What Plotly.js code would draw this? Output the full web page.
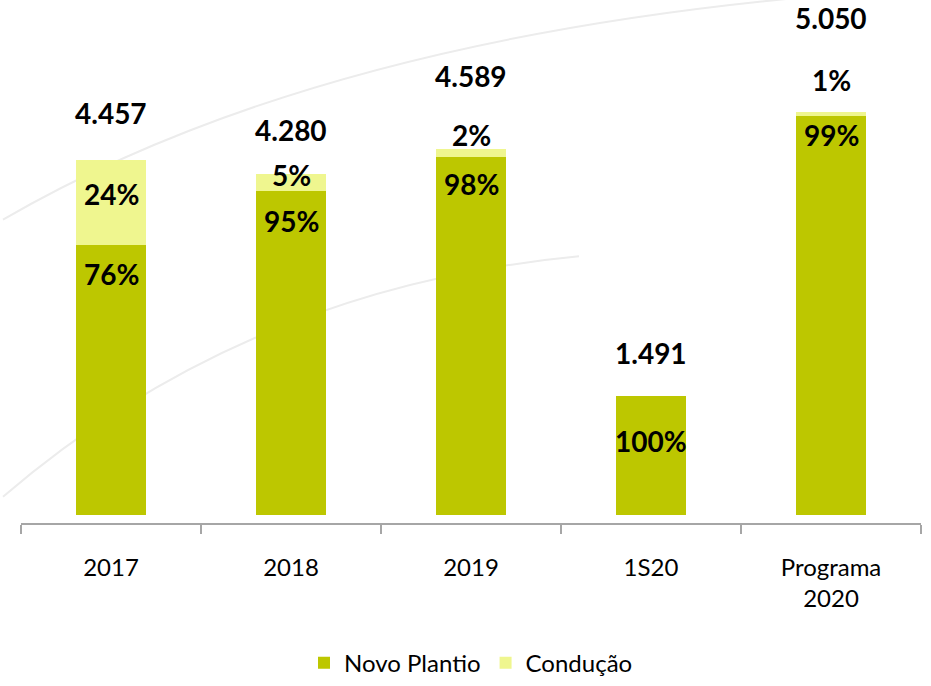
<!DOCTYPE html>
<html>
<head>
<meta charset="utf-8">
<script src="https://cdn.plot.ly/plotly-3.0.1.min.js"></script>
<style>html,body{margin:0;padding:0;background:#fff;}#chart{width:931px;height:686px;}</style>
</head>
<body>
<div id="chart"></div>
<script>
// ---- data ----
const categories = ["2017", "2018", "2019", "1S20", "Programa<br>2020"];
const totals = [4457, 4280, 4589, 1491, 5050];
const totalLabels = ["4.457", "4.280", "4.589", "1.491", "5.050"];
const novoPct = [76, 95, 98, 100, 99];
const conducaoPct = [24, 5, 2, 0, 1];

// derived series
const novoValues = totals.map((t, i) => t * novoPct[i] / 100);
const conducaoValues = totals.map((t, i) => t * conducaoPct[i] / 100);

// ---- label placement (pixel offsets, styling only) ----
const totalShift = [47, 44, 73, 43, 94];
const condShift = [-34, -1, 14, 0, 32];
const novoShift = [-29, -30, -27, -45, -19];

const green = "#BDC700";
const yellow = "#EFF68F";
const labelFont = {family: "Lato, 'Open Sans', sans-serif", size: 28, color: "#000"};

const traces = [
  {type: "bar", name: "Novo Plantio", x: categories, y: novoValues,
   marker: {color: green}, width: 0.39},
  {type: "bar", name: "Condução", x: categories, y: conducaoValues,
   marker: {color: yellow}, width: 0.39}
];

const annotations = [];
categories.forEach((c, i) => {
  annotations.push({x: i, y: totals[i], xref: "x", yref: "y", text: "<b>" + totalLabels[i] + "</b>",
    showarrow: false, yanchor: "middle", yshift: totalShift[i], font: labelFont});
  annotations.push({x: i, y: novoValues[i], xref: "x", yref: "y", text: "<b>" + novoPct[i] + "%</b>",
    showarrow: false, yanchor: "middle", yshift: novoShift[i], font: labelFont});
  if (conducaoPct[i] > 0) {
    annotations.push({x: i, y: totals[i], xref: "x", yref: "y", text: "<b>" + conducaoPct[i] + "%</b>",
      showarrow: false, yanchor: "middle", yshift: condShift[i], font: labelFont});
  }
});

// faint decorative background strokes
const bgLine = {color: "#ececec", width: 2};
const shapes = [
  {type: "path", xref: "paper", yref: "paper", layer: "below", line: bgLine,
   path: "M -0.02 0.58 Q 0.35 0.95 0.98 1.02"},
  {type: "path", xref: "paper", yref: "paper", layer: "below", line: bgLine,
   path: "M -0.02 0.05 Q 0.25 0.45 0.62 0.51"}
];

const layout = {
  width: 931, height: 686,
  margin: {l: 21, r: 10, t: 0, b: 156, pad: 0},
  paper_bgcolor: "#ffffff", plot_bgcolor: "rgba(0,0,0,0)",
  barmode: "stack",
  showlegend: true,
  legend: {orientation: "h", x: 0.5, xanchor: "center", y: -0.268, yanchor: "middle",
    font: {family: "Lato, 'Open Sans', sans-serif", size: 24, color: "#000"},
    traceorder: "normal"},
  xaxis: {type: "category", categoryorder: "array", categoryarray: categories,
    range: [-0.5, 4.5], autorange: false,
    showline: true, linecolor: "#a6a6a6", linewidth: 2,
    ticks: "outside", tickson: "boundaries", ticklen: 9, tickcolor: "#a6a6a6", tickwidth: 1.5,
    tickfont: {family: "Lato, 'Open Sans', sans-serif", size: 24, color: "#000"},
    ticklabelstandoff: 22,
    tickangle: 0, showgrid: false, zeroline: false},
  yaxis: {range: [-99, 6460], autorange: false, visible: false, showgrid: false, zeroline: false},
  annotations: annotations,
  shapes: shapes
};

Plotly.newPlot("chart", traces, layout, {staticPlot: true, displayModeBar: false});
</script>
</body>
</html>
